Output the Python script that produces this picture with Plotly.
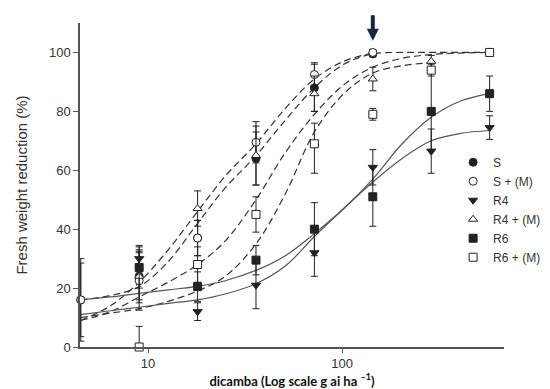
import math
import plotly.graph_objects as go

# ---- data points (dose g ai/ha, fresh weight reduction %) ----
S_DOSE = [4.5, 9, 18, 36, 72, 144]
S_VAL = [16, 24, 37, 64, 88, 99.5]
S_ERR = [14, 9, 6, 9, 8, 1]

SM_DOSE = [4.5, 9, 18, 36, 72, 144]
SM_VAL = [16, 22.5, 37, 69.5, 92.5, 100]
SM_ERR = [12.5, 10, 6, 7, 4, 1]

R4_DOSE = [9, 18, 36, 72, 144, 288, 576]
R4_VAL = [30, 12, 21, 32, 61, 66.5, 74.5]
R4_ERR = [4.5, 3, 8, 8, 6, 7.5, 4]

R4M_DOSE = [9, 18, 36, 72, 144, 288]
R4M_VAL = [24, 47, 65, 86, 91, 97]
R4M_ERR = [8, 6, 10, 6, 4, 2]

R6_DOSE = [9, 18, 36, 72, 144, 288, 576]
R6_VAL = [27, 20.5, 29.5, 40, 51, 80, 86]
R6_ERR = [7, 5, 5, 9, 10, 13, 6]

R6M_DOSE = [9, 18, 36, 72, 144, 288, 576]
R6M_VAL = [0, 28, 45, 69, 79, 94, 100]
R6M_ERR_UP = [7, 6, 6, 7, 2, 2, 1]
R6M_ERR_DN = [0, 6, 6, 10, 2, 2, 1]

# ---- fitted curves ----
CURVE_DOSE = [4.5, 6.4, 9, 12.7, 18, 25, 36, 51, 72, 102, 144, 204, 288, 408, 576]
S_CURVE = [16, 17.5, 20.5, 29, 42, 54, 65, 77, 88, 96, 99.5, 100, 100, 100, 100]
SM_CURVE = [9, 14, 22, 33, 46, 58, 69, 81, 91, 97, 99.8]
R4M_CURVE = [10, 11.5, 13, 15.5, 19, 24, 35, 52, 73, 86, 93, 95.5, 96.5]
R6M_CURVE = [9, 12, 17, 22, 28, 36, 50, 66, 79, 89, 95, 98, 99.3, 99.8, 100]
R4_CURVE = [11, 12.3, 13.5, 14.8, 16, 18, 21.5, 27.5, 37.5, 47, 56, 64, 70, 72.5, 73.5]
R6_CURVE = [16, 17, 18.2, 19.4, 20.6, 22.5, 26, 31, 38.5, 47, 57, 69, 78, 83.5, 86]

X_TICKS = [10, 100]
Y_TICKS = [0, 20, 40, 60, 80, 100]
ARROW_DOSE = 144

INK = "#222222"
fig = go.Figure()

dash_pat = "7px,4px"
curves = [
    (S_CURVE, dash_pat, "#333333"),
    (SM_CURVE, dash_pat, "#333333"),
    (R4M_CURVE, dash_pat, "#333333"),
    (R6M_CURVE, dash_pat, "#333333"),
    (R4_CURVE, "solid", "#555555"),
    (R6_CURVE, "solid", "#555555"),
]
for vals, dash, col in curves:
    fig.add_trace(go.Scatter(
        x=CURVE_DOSE[:len(vals)], y=vals, mode="lines",
        line=dict(color=col, width=1.2, dash=dash, shape="spline", smoothing=1),
        showlegend=False, hoverinfo="skip"))

def pts(name, xs, ys, up, dn, symbol, fill):
    fig.add_trace(go.Scatter(
        x=xs, y=ys, mode="markers", name=name,
        marker=dict(symbol=symbol, size=8, color=fill,
                    line=dict(color=INK, width=1)),
        error_y=dict(type="data", array=up, arrayminus=dn, symmetric=False,
                     color=INK, thickness=1, width=3.5),
        cliponaxis=False))

pts("S", S_DOSE, S_VAL, S_ERR, S_ERR, "circle", INK)
pts("S + (M)", SM_DOSE, SM_VAL, SM_ERR, SM_ERR, "circle", "white")
pts("R4", R4_DOSE, R4_VAL, R4_ERR, R4_ERR, "triangle-down", INK)
pts("R4 + (M)", R4M_DOSE, R4M_VAL, R4M_ERR, R4M_ERR, "triangle-up", "white")
pts("R6", R6_DOSE, R6_VAL, R6_ERR, R6_ERR, "square", INK)
pts("R6 + (M)", R6M_DOSE, R6M_VAL, R6M_ERR_UP, R6M_ERR_DN, "square", "white")

fig.add_annotation(
    x=math.log10(ARROW_DOSE), y=104.0, xref="x", yref="y", text="",
    showarrow=True, arrowhead=2, arrowsize=0.6, arrowwidth=4,
    arrowcolor="#1b2540", ax=0, ay=-27)

fig.update_layout(
    width=550, height=389,
    margin=dict(l=62, r=40, t=15, b=50),
    paper_bgcolor="white", plot_bgcolor="white",
    font=dict(family="Liberation Sans, Arial, sans-serif", size=13, color="#333333"),
    showlegend=True,
    legend=dict(x=0.88, y=0.615, xanchor="left", yanchor="top",
                bgcolor="rgba(0,0,0,0)", font=dict(size=12, color="#333333"),
                tracegroupgap=0, itemwidth=30),
)
fig.update_xaxes(
    type="log", range=[math.log10(4.46), math.log10(683)],
    tickvals=X_TICKS, ticktext=[str(v) for v in X_TICKS],
    ticks="outside", ticklen=4, tickcolor="#555555",
    showline=True, linecolor="#555555", linewidth=1.5,
    showgrid=False, zeroline=False,
    title=dict(text="dicamba (Log scale g ai ha <sup>–1</sup>)",
               font=dict(family="Lato, Open Sans, sans-serif", size=13,
                         color="#111111", weight="bold"),
               standoff=4))
fig.update_yaxes(
    range=[0, 110], tickvals=Y_TICKS,
    ticks="outside", ticklen=5, tickcolor="#555555",
    showline=True, linecolor="#555555", linewidth=1.5,
    showgrid=False, zeroline=False,
    title=dict(text="Fresh weight reduction (%)",
               font=dict(size=15, color="#333333"), standoff=18))

fig.write_html("out.html")
